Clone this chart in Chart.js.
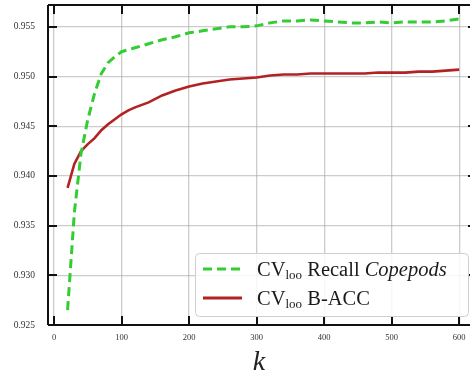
<!DOCTYPE html>
<html>
<head>
<meta charset="utf-8">
<script src="https://cdn.jsdelivr.net/npm/chart.js@4/dist/chart.umd.min.js"></script>
<style>
  html, body { margin: 0; padding: 0; background: #fff; }
  #wrap { width: 470px; height: 376px; }
</style>
</head>
<body>
<div id="wrap"><canvas id="kChart" width="470" height="376"></canvas></div>
<script>
    // k values and leave-one-out cross-validation scores
    const kRecall = [20, 30, 40, 50, 60, 70, 80, 90, 100, 110, 120, 140, 160, 180, 200, 220, 240, 260, 280, 300,
                     320, 340, 360, 380, 400, 420, 440, 460, 480, 500, 520, 540, 560, 580, 600];
    const recallCopepods = [0.9265, 0.9363, 0.9423, 0.9457, 0.9483, 0.9503, 0.9514, 0.9520, 0.9525, 0.9527, 0.9529,
                            0.9533, 0.9537, 0.9540, 0.9544, 0.9546, 0.9548, 0.9550, 0.9550, 0.9551,
                            0.9554, 0.9556, 0.9556, 0.9557, 0.9556, 0.9555, 0.9554, 0.9554, 0.9555, 0.9554,
                            0.9555, 0.9555, 0.9555, 0.9556, 0.9558];
    const kBacc = kRecall;
    const balancedAcc = [0.9388, 0.9412, 0.9425, 0.9432, 0.9438, 0.9446, 0.9452, 0.9457, 0.9462, 0.9466, 0.9469,
                         0.9474, 0.9481, 0.9486, 0.9490, 0.9493, 0.9495, 0.9497, 0.9498, 0.9499,
                         0.9501, 0.9502, 0.9502, 0.9503, 0.9503, 0.9503, 0.9503, 0.9503, 0.9504, 0.9504,
                         0.9504, 0.9505, 0.9505, 0.9506, 0.9507];
    const xTicks = [0, 100, 200, 300, 400, 500, 600];
    const yTicks = [0.925, 0.930, 0.935, 0.940, 0.945, 0.950, 0.955];

    const serif = '"Liberation Serif", "DejaVu Serif", serif';
    const GREEN = '#32cd32';
    const RED = '#b22222';

    // inward ticks on all four sides plus the frame
    const frame = {
        id: 'frame',
        afterDatasetsDraw(chart) {
            const { ctx, chartArea: a, scales: { x, y } } = chart;
            ctx.save();
            ctx.strokeStyle = '#111';
            ctx.lineWidth = 2;
            ctx.beginPath();
            ctx.moveTo(a.left, a.top); ctx.lineTo(a.right, a.top);
            ctx.moveTo(a.left, a.top); ctx.lineTo(a.left, a.bottom);
            ctx.moveTo(a.left, a.bottom); ctx.lineTo(a.right, a.bottom);
            const len = 9;
            xTicks.forEach(v => {
                const px = Math.round(x.getPixelForValue(v));
                ctx.moveTo(px, a.bottom); ctx.lineTo(px, a.bottom - len);
                ctx.moveTo(px, a.top); ctx.lineTo(px, a.top + len);
            });
            yTicks.forEach(v => {
                const py = Math.round(y.getPixelForValue(v));
                ctx.moveTo(a.left, py); ctx.lineTo(a.left + len, py);
                ctx.moveTo(a.right - 2, py); ctx.lineTo(a.right, py);
            });
            ctx.stroke();
            ctx.restore();
        }
    };

    // legend with subscripted "loo" and italic species name
    const legendBox = {
        id: 'legendBox',
        afterDraw(chart) {
            const ctx = chart.ctx;
            ctx.save();
            ctx.beginPath();
            ctx.roundRect(195.5, 253.5, 273, 63, 4);
            ctx.fillStyle = 'rgba(255,255,255,0.85)';
            ctx.fill();
            ctx.strokeStyle = '#cfcfcf';
            ctx.lineWidth = 1;
            ctx.stroke();

            const rows = [
                { color: GREEN, dash: [9, 5], y: 276, tail: ' Recall ', italic: 'Copepods' },
                { color: RED, dash: [], y: 305, tail: ' B-ACC', italic: '' }
            ];
            rows.forEach(r => {
                ctx.beginPath();
                ctx.setLineDash(r.dash);
                ctx.strokeStyle = r.color;
                ctx.lineWidth = 3;
                ctx.moveTo(203, r.y - 7);
                ctx.lineTo(242, r.y - 7);
                ctx.stroke();
                ctx.setLineDash([]);

                ctx.fillStyle = '#1a1a1a';
                ctx.textBaseline = 'alphabetic';
                let tx = 257;
                ctx.font = '20.5px ' + serif;
                ctx.fillText('CV', tx, r.y);
                tx += ctx.measureText('CV').width;
                ctx.font = '13px ' + serif;
                ctx.fillText('loo', tx, r.y + 3);
                tx += ctx.measureText('loo').width;
                ctx.font = '20.5px ' + serif;
                ctx.fillText(r.tail, tx, r.y);
                tx += ctx.measureText(r.tail).width;
                if (r.italic) {
                    ctx.font = 'italic 20.5px ' + serif;
                    ctx.fillText(r.italic, tx, r.y);
                }
            });
            ctx.restore();
        }
    };

    new Chart(document.getElementById('kChart'), {
        type: 'line',
        data: {
            datasets: [{
                label: 'CV loo Recall Copepods',
                data: kRecall.map((k, i) => ({ x: k, y: recallCopepods[i] })),
                borderColor: GREEN,
                borderWidth: 3,
                borderDash: [9, 5],
                pointRadius: 0,
                tension: 0
            }, {
                label: 'CV loo B-ACC',
                data: kBacc.map((k, i) => ({ x: k, y: balancedAcc[i] })),
                borderColor: RED,
                borderWidth: 2.6,
                pointRadius: 0,
                tension: 0
            }]
        },
        options: {
            responsive: false,
            animation: false,
            devicePixelRatio: 1,
            layout: { padding: { top: 5, right: 0, left: 0, bottom: 0 } },
            plugins: { legend: { display: false }, tooltip: { enabled: false } },
            scales: {
                x: {
                    type: 'linear',
                    min: -9,
                    max: 616,
                    afterBuildTicks: s => { s.ticks = xTicks.map(v => ({ value: v })); },
                    afterFit: s => { s.height = 51; s.paddingLeft = 0; s.paddingRight = 0; },
                    grid: { color: 'rgba(170,170,170,0.6)', lineWidth: 1.3, drawTicks: false },
                    border: { display: false },
                    ticks: { color: '#333', font: { family: serif, size: 8.5 }, padding: 8, maxRotation: 0 },
                    title: { display: true, text: 'k', color: '#222', font: { family: serif, size: 28, style: 'italic' }, padding: { top: 0, bottom: -3 } }
                },
                y: {
                    min: 0.925,
                    max: 0.9572,
                    afterBuildTicks: s => { s.ticks = yTicks.map(v => ({ value: v })); },
                    afterFit: s => { s.width = 48; s.paddingTop = 0; s.paddingBottom = 0; },
                    grid: { color: 'rgba(170,170,170,0.6)', lineWidth: 1.3, drawTicks: false },
                    border: { display: false },
                    ticks: { color: '#333', font: { family: serif, size: 9.5 }, padding: 13, callback: v => v.toFixed(3) }
                }
            }
        },
        plugins: [frame, legendBox]
    });
</script>
</body>
</html>
